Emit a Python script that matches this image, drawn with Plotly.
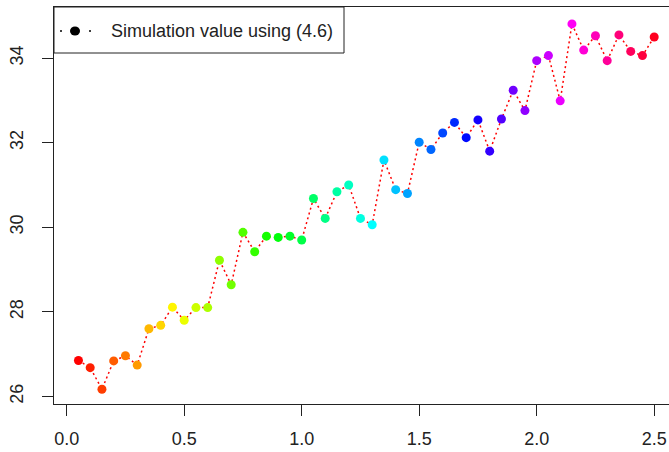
import colorsys
import plotly.graph_objects as go

# ---- data ----
x_vals = [round(0.05 * (i + 1), 2) for i in range(50)]
y_vals = [26.85, 26.68, 26.17, 26.84, 26.96, 26.74, 27.60, 27.68, 28.11, 27.80,
          28.10, 28.10, 29.22, 28.64, 29.88, 29.42, 29.79, 29.76, 29.79, 29.70,
          30.68, 30.21, 30.84, 31.00, 30.21, 30.06, 31.59, 30.89, 30.80, 32.01,
          31.84, 32.23, 32.48, 32.12, 32.54, 31.80, 32.56, 33.24, 32.76, 33.94,
          34.06, 32.99, 34.81, 34.19, 34.53, 33.94, 34.55, 34.16, 34.06, 34.50]
x_ticks = [0.0, 0.5, 1.0, 1.5, 2.0, 2.5]
x_tick_labels = ["0.0", "0.5", "1.0", "1.5", "2.0", "2.5"]
y_ticks = [26, 28, 30, 32, 34]
y_tick_labels = ["26", "28", "30", "32", "34"]
legend_label = "Simulation value using (4.6)"

# R rainbow(n) colours
n = len(x_vals)
colors = []
for i in range(n):
    r, g, b = colorsys.hsv_to_rgb(i / n, 1, 1)
    colors.append(f"rgb({int(round(r*255))},{int(round(g*255))},{int(round(b*255))})")

W, H = 669, 452
ML, MT, MB, MR = 54, 7, 48, 0
PW = W - ML - MR
PH = H - MT - MB

fig = go.Figure()
fig.add_trace(go.Scatter(
    x=x_vals, y=y_vals, mode="lines",
    line=dict(color="red", width=1.5, dash="2px,3px"),
    showlegend=False, hoverinfo="skip"))
fig.add_trace(go.Scatter(
    x=x_vals, y=y_vals, mode="markers",
    marker=dict(color=colors, size=9, line=dict(width=0)),
    showlegend=False))

font = "Liberation Sans, Arial, sans-serif"
tc = "#222222"

def px_x(p):
    return (p - ML) / PW

def px_y(p):
    return 1 - (p - MT) / PH

shapes = [
    dict(type="rect", xref="paper", yref="paper", x0=px_x(54), x1=px_x(344),
         y0=px_y(53), y1=px_y(7), line=dict(color="#222", width=1),
         fillcolor="white", layer="above"),
    dict(type="line", xref="paper", yref="paper", x0=px_x(60), x1=px_x(91),
         y0=px_y(31), y1=px_y(31), line=dict(color="black", width=1.5, dash="2px,12.5px"),
         layer="above"),
    dict(type="circle", xref="paper", yref="paper", xsizemode="pixel", ysizemode="pixel",
         xanchor=px_x(75), yanchor=px_y(31), x0=-5, x1=5, y0=-4.5, y1=4.5,
         fillcolor="black", line=dict(width=0), layer="above"),
]
annotations = [
    dict(xref="paper", yref="paper", x=px_x(109), y=px_y(31), text=legend_label,
         showarrow=False, xanchor="left", yanchor="middle",
         font=dict(family=font, size=18, color=tc)),
]

x0 = -12.7 / 235.0
x1 = (W - 66.7) / 235.0
fig.update_layout(
    template="none",
    width=W, height=H,
    margin=dict(l=ML, r=MR, t=MT, b=MB, autoexpand=False),
    paper_bgcolor="white", plot_bgcolor="white",
    shapes=shapes, annotations=annotations,
    font=dict(family=font, size=18, color=tc),
    xaxis=dict(range=[x0, x1], tickvals=x_ticks, ticktext=x_tick_labels,
               automargin=False, ticklabelstandoff=7,
               showgrid=False, zeroline=False, showline=True, mirror=True,
               linecolor="#222", linewidth=1, ticks="outside", ticklen=11,
               tickcolor="#222", tickwidth=1, tickfont=dict(size=18, color=tc)),
    yaxis=dict(range=[25.82, 35.21], tickvals=y_ticks, ticktext=y_tick_labels,
               automargin=False, ticklabelstandoff=12,
               showgrid=False, zeroline=False, showline=True, mirror=False,
               linecolor="#222", linewidth=1, ticks="outside", ticklen=11,
               tickcolor="#222", tickwidth=1, tickangle=-90,
               tickfont=dict(size=18, color=tc)),
)
fig.write_html("out.html", config={"displayModeBar": False},
               post_script="document.body.style.margin='0';document.body.style.overflow='hidden';")
